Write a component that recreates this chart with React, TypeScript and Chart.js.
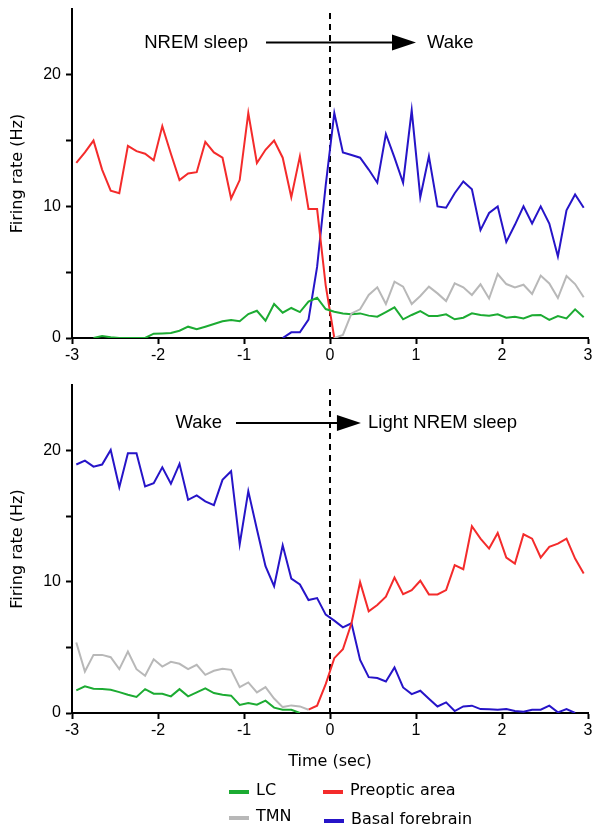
import React, { useEffect, useRef } from 'react';
import { Chart, registerables } from 'chart.js';

Chart.register(...registerables);

// ---- data ----
const timeBins = [
  -2.95, -2.85, -2.75, -2.65, -2.55, -2.45, -2.35, -2.25, -2.15, -2.05,
  -1.95, -1.85, -1.75, -1.65, -1.55, -1.45, -1.35, -1.25, -1.15, -1.05,
  -0.95, -0.85, -0.75, -0.65, -0.55, -0.45, -0.35, -0.25, -0.15, -0.05,
  0.05, 0.15, 0.25, 0.35, 0.45, 0.55, 0.65, 0.75, 0.85, 0.95,
  1.05, 1.15, 1.25, 1.35, 1.45, 1.55, 1.65, 1.75, 1.85, 1.95,
  2.05, 2.15, 2.25, 2.35, 2.45, 2.55, 2.65, 2.75, 2.85, 2.95,
];

const N = null;

// Panel 1: NREM sleep -> Wake
const s2wLC = [
  N, N, 0, 0.15, 0.05, 0, 0, 0, 0, 0.33,
  0.35, 0.38, 0.55, 0.86, 0.66, 0.86, 1.06, 1.27, 1.37, 1.27,
  1.82, 2.07, 1.32, 2.58, 1.92, 2.28, 1.97, 2.76, 3.06, 2.2,
  2.0, 1.87, 1.8, 1.87, 1.7, 1.62, 1.97, 2.33, 1.42, 1.75,
  2.05, 1.67, 1.67, 1.8, 1.42, 1.54, 1.87, 1.75, 1.7, 1.8,
  1.54, 1.62, 1.49, 1.72, 1.75, 1.37, 1.67, 1.49, 2.18, 1.57,
];
const s2wTMN = [
  N, N, N, N, N, N, N, N, N, N,
  N, N, N, N, N, N, N, N, N, N,
  N, N, N, N, N, N, N, N, N, N,
  0, 0.23, 1.87, 2.18, 3.27, 3.85, 2.58, 4.28, 3.9, 2.58,
  3.19, 3.9, 3.39, 2.81, 4.15, 3.85, 3.27, 4.08, 3.0, 4.86,
  4.1, 3.85, 4.05, 3.35, 4.74, 4.15, 3.04, 4.71, 4.1, 3.1,
];
const s2wPOA = [
  13.3, 14.1, 15.0, 12.8, 11.2, 11.0, 14.6, 14.2, 14.0, 13.5,
  16.1, 14.0, 12.0, 12.5, 12.6, 14.9, 14.1, 13.7, 10.6, 12.0,
  17.1, 13.3, 14.3, 15.0, 13.7, 10.7, 13.8, 9.8, 9.8, 4.0,
  0, N, N, N, N, N, N, N, N, N,
  N, N, N, N, N, N, N, N, N, N,
  N, N, N, N, N, N, N, N, N, N,
];
const s2wBF = [
  N, N, N, N, N, N, N, N, N, N,
  N, N, N, N, N, N, N, N, N, N,
  N, N, N, N, 0, 0.43, 0.43, 1.4, 5.4, 11.6,
  17.1, 14.1, 13.9, 13.7, 12.8, 11.8, 15.5, 13.7, 11.8, 17.3,
  10.7, 13.8, 10.0, 9.9, 11.0, 11.9, 11.3, 8.2, 9.5, 10.0,
  7.3, 8.6, 10.0, 8.7, 10.0, 8.7, 6.2, 9.7, 10.9, 9.9,
];

// Panel 2: Wake -> Light NREM sleep
const w2sLC = [
  1.72, 2.03, 1.85, 1.82, 1.77, 1.59, 1.39, 1.22, 1.82, 1.47,
  1.47, 1.27, 1.82, 1.27, 1.57, 1.87, 1.52, 1.39, 1.32, 0.61,
  0.76, 0.63, 0.94, 0.41, 0.25, 0.25, 0, N, N, N,
  N, N, N, N, N, N, N, N, N, N,
  N, N, N, N, N, N, N, N, N, N,
  N, N, N, N, N, N, N, N, N, N,
];
const w2sTMN = [
  5.37, 3.16, 4.43, 4.43, 4.25, 3.34, 4.68, 3.34, 2.84, 4.1,
  3.54, 3.9, 3.75, 3.34, 3.67, 2.91, 3.22, 3.37, 3.29, 1.97,
  2.33, 1.57, 1.97, 1.1, 0.45, 0.58, 0.5, 0.25, N, N,
  N, N, N, N, N, N, N, N, N, N,
  N, N, N, N, N, N, N, N, N, N,
  N, N, N, N, N, N, N, N, N, N,
];
const w2sPOA = [
  N, N, N, N, N, N, N, N, N, N,
  N, N, N, N, N, N, N, N, N, N,
  N, N, N, N, N, N, N, 0.25, 0.56, 2.2,
  4.18, 4.86, 6.84, 9.97, 7.75, 8.23, 8.86, 10.33, 9.06, 9.37,
  10.08, 9.04, 9.04, 9.37, 11.27, 10.96, 14.23, 13.29, 12.53, 13.72,
  11.85, 11.39, 13.62, 13.29, 11.85, 12.66, 12.91, 13.29, 11.77, 10.63,
];
const w2sBF = [
  18.94, 19.24, 18.78, 18.94, 20.05, 17.2, 19.8, 19.8, 17.27, 17.52,
  18.73, 17.47, 18.99, 16.25, 16.58, 16.13, 15.85, 17.77, 18.43, 12.86,
  16.91, 14.0, 11.19, 9.67, 12.78, 10.25, 9.8, 8.61, 8.76, 7.5,
  7.04, 6.53, 6.84, 4.05, 2.73, 2.66, 2.4, 3.47, 1.95, 1.44,
  1.7, 1.09, 0.5, 0.81, 0.15, 0.5, 0.56, 0.3, 0.28, 0.25,
  0.3, 0.15, 0.1, 0.25, 0.25, 0.56, 0.05, 0.3, 0, N,
];

const seriesNames = ['LC', 'TMN', 'Preoptic area', 'Basal forebrain'];
const xTicks = [-3, -2, -1, 0, 1, 2, 3];
const yTickMarks = [0, 5, 10, 15, 20];
const yLabelTicks = [0, 10, 20];

// ---- styles ----
const COLORS = ['#1cab32', '#b8b8b8', '#f42b2b', '#2614c8'];
const X_TICK_FONT = { family: '"Liberation Sans", Arial, sans-serif', size: 16, lineHeight: 1.2 };
const Y_TICK_FONT = { family: '"Liberation Sans", Arial, sans-serif', size: 16, lineHeight: 0.5 };
const TITLE_FONT = { family: '"DejaVu Sans", Verdana, sans-serif', size: 16, lineHeight: 1.2 };

function toPoints(vals: (number | null)[]) {
  return timeBins.map((t, i) => ({ x: t, y: vals[i] }));
}

const stateAnnot = {
  id: 'stateAnnot',
  beforeDatasetsDraw(chart: any) {
    const { ctx, chartArea, scales } = chart;
    const x0 = scales.x.getPixelForValue(0);
    ctx.save();
    ctx.strokeStyle = '#000';
    ctx.lineWidth = 2;
    ctx.setLineDash([6, 5]);
    ctx.beginPath();
    ctx.moveTo(x0, chartArea.top + 4);
    ctx.lineTo(x0, chartArea.bottom);
    ctx.stroke();
    ctx.restore();
  },
  afterDatasetsDraw(chart: any, _a: any, opts: any) {
    const { ctx, scales } = chart;
    const x = scales.x, y = scales.y;
    const yy = y.getPixelForValue(opts.y);
    const xs = x.getPixelForValue(opts.arrowFrom);
    const xt = x.getPixelForValue(opts.arrowTo);
    const headLen = 24, headHalf = 8;
    ctx.save();
    ctx.strokeStyle = '#000';
    ctx.fillStyle = '#000';
    ctx.lineWidth = 2;
    ctx.beginPath();
    ctx.moveTo(xs, yy);
    ctx.lineTo(xt - headLen + 2, yy);
    ctx.stroke();
    ctx.beginPath();
    ctx.moveTo(xt, yy);
    ctx.lineTo(xt - headLen, yy - headHalf);
    ctx.lineTo(xt - headLen, yy + headHalf);
    ctx.closePath();
    ctx.fill();
    ctx.font = '18.5px "Liberation Sans", Arial, sans-serif';
    ctx.textBaseline = 'middle';
    ctx.textAlign = 'right';
    ctx.fillText(opts.fromLabel, x.getPixelForValue(opts.fromLabelAt), yy);
    ctx.textAlign = 'left';
    ctx.fillText(opts.toLabel, x.getPixelForValue(opts.toLabelAt), yy);
    ctx.restore();
  },
};

const customLegend = {
  id: 'customLegend',
  afterDraw(chart: any, _a: any, opts: any) {
    if (!opts || !opts.show) return;
    const { ctx } = chart;
    const items = [
      { name: seriesNames[0], color: COLORS[0], lx: 229, ly: 421 },
      { name: seriesNames[1], color: COLORS[1], lx: 229, ly: 447 },
      { name: seriesNames[2], color: COLORS[2], lx: 323, ly: 421 },
      { name: seriesNames[3], color: COLORS[3], lx: 324, ly: 450 },
    ];
    ctx.save();
    ctx.font = '16px "DejaVu Sans", Verdana, sans-serif';
    ctx.textBaseline = 'middle';
    ctx.textAlign = 'left';
    items.forEach((it) => {
      ctx.strokeStyle = it.color;
      ctx.lineWidth = 4;
      ctx.beginPath();
      ctx.moveTo(it.lx, it.ly + 1);
      ctx.lineTo(it.lx + 20, it.ly + 1);
      ctx.stroke();
      ctx.fillStyle = '#000';
      ctx.fillText(it.name, it.lx + 27, it.ly);
    });
    ctx.restore();
  },
};

function makeConfig(
  vals: (number | null)[][],
  annot: any,
  opts: { padTop: number; padBottom: number; xHeight: number; xTitle: boolean; legend: boolean }
) {
  const order = [1, 0, 2, 3];
  return {
    type: 'line' as const,
    data: {
      datasets: order.map((k) => ({
        label: seriesNames[k],
        data: toPoints(vals[k]),
        borderColor: COLORS[k],
        backgroundColor: COLORS[k],
        borderWidth: 2,
        pointRadius: 0,
        tension: 0,
        fill: false,
      })),
    },
    options: {
      responsive: false,
      animation: false as const,
      devicePixelRatio: 1,
      layout: { padding: { left: 0, right: 14, top: opts.padTop, bottom: opts.padBottom } },
      plugins: {
        legend: { display: false },
        tooltip: { enabled: false },
        stateAnnot: annot,
        customLegend: { show: opts.legend },
      },
      scales: {
        x: {
          type: 'linear' as const,
          min: -3,
          max: 3,
          afterBuildTicks: (s: any) => {
            s.ticks = xTicks.map((v) => ({ value: v }));
          },
          afterFit: (s: any) => {
            s.height = opts.xHeight;
          },
          ticks: {
            color: '#000',
            font: X_TICK_FONT,
            padding: 2,
            maxRotation: 0,
            autoSkip: false,
            callback: (v: any) => String(v),
          },
          grid: {
            display: true,
            drawOnChartArea: false,
            drawTicks: true,
            tickLength: 6,
            tickWidth: 2,
            tickColor: '#000',
          },
          border: { display: true, color: '#000', width: 2 },
          title: {
            display: opts.xTitle,
            text: 'Time (sec)',
            color: '#000',
            font: TITLE_FONT,
            padding: { top: 0, bottom: 12 },
          },
        },
        y: {
          type: 'linear' as const,
          min: 0,
          max: 25,
          afterBuildTicks: (s: any) => {
            s.ticks = yTickMarks.map((v) => ({ value: v }));
          },
          afterFit: (s: any) => {
            s.width = 72;
          },
          ticks: {
            color: '#000',
            font: Y_TICK_FONT,
            padding: 5,
            autoSkip: false,
            callback: (v: any) => (yLabelTicks.includes(v) ? String(v) : ''),
          },
          grid: {
            display: true,
            drawOnChartArea: false,
            drawTicks: true,
            tickLength: 6,
            tickWidth: 2,
            tickColor: '#000',
          },
          border: { display: true, color: '#000', width: 2 },
          title: {
            display: true,
            text: 'Firing rate (Hz)',
            color: '#000',
            font: TITLE_FONT,
            padding: { top: 8, bottom: 0 },
          },
        },
      },
    },
    plugins: [stateAnnot, customLegend],
  };
}

export default function App() {
  const topRef = useRef<HTMLCanvasElement | null>(null);
  const botRef = useRef<HTMLCanvasElement | null>(null);

  useEffect(() => {
    const c1 = new Chart(
      topRef.current as HTMLCanvasElement,
      makeConfig(
        [s2wLC, s2wTMN, s2wPOA, s2wBF],
        {
          y: 22.45,
          arrowFrom: -0.744,
          arrowTo: 1.0,
          fromLabel: 'NREM sleep',
          fromLabelAt: -0.953,
          toLabel: 'Wake',
          toLabelAt: 1.128,
        },
        { padTop: 9, padBottom: 0, xHeight: 32, xTitle: false, legend: false }
      ) as any
    );
    const c2 = new Chart(
      botRef.current as HTMLCanvasElement,
      makeConfig(
        [w2sLC, w2sTMN, w2sPOA, w2sBF],
        {
          y: 22.1,
          arrowFrom: -1.093,
          arrowTo: 0.36,
          fromLabel: 'Wake',
          fromLabelAt: -1.256,
          toLabel: 'Light NREM sleep',
          toLabelAt: 0.442,
        },
        { padTop: 15, padBottom: 53, xHeight: 70, xTitle: true, legend: true }
      ) as any
    );
    return () => {
      c1.destroy();
      c2.destroy();
    };
  }, []);

  return (
    <div style={{ position: 'absolute', left: 0, top: 0, width: 602, height: 836, background: '#fff' }}>
      <canvas
        ref={topRef}
        width={602}
        height={370}
        style={{ position: 'absolute', left: 0, top: 0, width: 602, height: 370, display: 'block' }}
      />
      <canvas
        ref={botRef}
        width={602}
        height={466}
        style={{ position: 'absolute', left: 0, top: 370, width: 602, height: 466, display: 'block' }}
      />
    </div>
  );
}
